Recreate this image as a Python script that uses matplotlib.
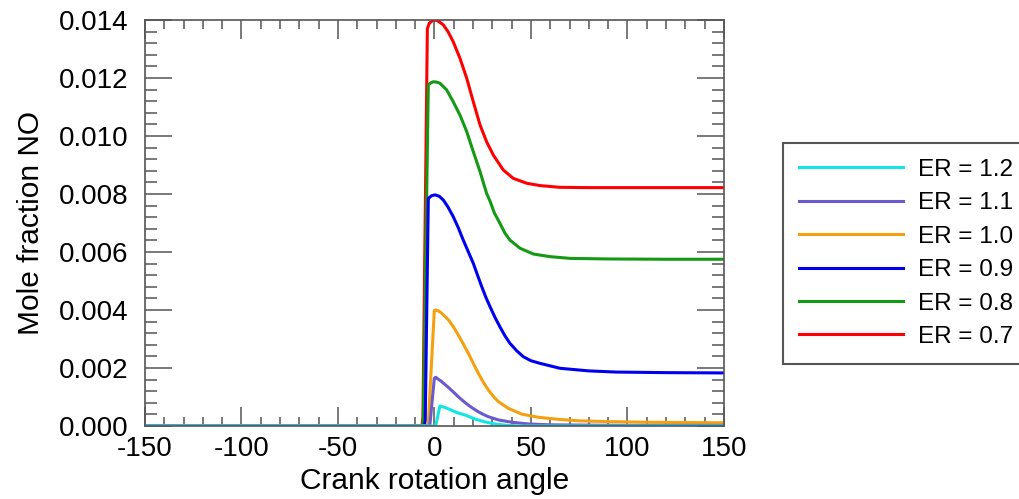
import numpy as np
import matplotlib
matplotlib.use("Agg")
import matplotlib.pyplot as plt
from matplotlib.ticker import MultipleLocator, FormatStrFormatter

plt.rcParams['font.family'] = ['Liberation Sans', 'DejaVu Sans']
plt.rcParams['axes.unicode_minus'] = False

# crank angle / mole fraction NO
angle_07 = [-150, -6.5, -6.0, -3.7, -2.7, -1, 0.3, 2, 4.6, 7, 9.7, 13.2, 16.7, 20.1, 23.6, 27.0, 30.5,
            35.6, 40.8, 47.8, 54.7, 65, 80, 100, 150]
no_07 = [0, 0, 0.0003, 0.0137, 0.01389, 0.01398, 0.0140, 0.01396, 0.01383, 0.0136, 0.01325, 0.01268, 0.01199,
         0.01118, 0.01038, 0.0098, 0.00934, 0.00883, 0.00854, 0.00837, 0.00829, 0.00823, 0.00822, 0.00822, 0.00822]

angle_08 = [-150, -6.2, -5.8, -3.2, -2, -0.6, 1, 2.8, 6.3, 9.7, 13.2, 16.7, 20.1, 23.6, 27.0, 28.8, 31,
            33.9, 36.5, 39.1, 44.3, 51.2, 59.8, 70.2, 90, 120, 150]
no_08 = [0, 0, 0.0002, 0.01176, 0.01183, 0.01187, 0.01186, 0.01182, 0.01159, 0.01118, 0.01072, 0.01015,
         0.00946, 0.00877, 0.00802, 0.00775, 0.00735, 0.00699, 0.00665, 0.00641, 0.00613, 0.00593, 0.00584,
         0.00578, 0.00576, 0.00575, 0.00575]

angle_09 = [-150, -5.2, -4.8, -3.2, -1.5, 0.3, 2.5, 4.6, 7, 9.7, 12.3, 14.9, 17.5, 20.1, 22.3, 24.5, 26.6,
            28.8, 31.3, 33.9, 36.5, 39.1, 42.5, 46.0, 50, 54.7, 65, 80, 94, 120, 150]
no_09 = [0, 0, 0.0002, 0.00785, 0.00794, 0.00797, 0.00792, 0.00779, 0.00755, 0.00722, 0.00684, 0.00641,
         0.00601, 0.00561, 0.0052, 0.0048, 0.00444, 0.00411, 0.00375, 0.00342, 0.00311, 0.00285, 0.0026,
         0.00239, 0.00225, 0.00216, 0.00199, 0.0019, 0.00186, 0.00184, 0.00183]

angle_10 = [-150, -3.4, -3.2, -0.1, 0.6, 2, 3.7, 7.2, 9.8, 12.3, 14.9, 17.5, 20.1, 22.7, 25.3, 27.9, 30.5,
            33.1, 38.2, 45.2, 53.8, 64.1, 74.5, 90, 110, 150]
no_10 = [0, 0, 0.0001, 0.00398, 0.004, 0.00397, 0.00389, 0.00366, 0.00342, 0.00314, 0.00283, 0.00251, 0.00216,
         0.00182, 0.00151, 0.00124, 0.00102, 0.00084, 0.00061, 0.00041, 0.0003, 0.00023, 0.00018, 0.00015,
         0.00013, 0.00011]

angle_11 = [-150, -2.5, -2.3, -0.1, 0.6, 3.7, 7.2, 9.8, 12.3, 14.9, 17.5, 20.1, 22.7, 25.3, 27.9, 33.1, 40,
            48.6, 60, 80, 100, 150]
no_11 = [0, 0, 0.0001, 0.00164, 0.00168, 0.00153, 0.00133, 0.00117, 0.00101, 0.00086, 0.00072, 0.0006,
         0.00049, 0.0004, 0.00032, 0.00021, 0.00013, 0.00007, 0.00004, 0.00003, 0.00002, 0.00002]

angle_12 = [-150, 0.6, 2.8, 5.4, 8, 10.6, 13.2, 15.8, 18.4, 21, 23.6, 26.2, 31.3, 38, 45, 150]
no_12 = [0, 0, 0.00069, 0.00064, 0.00057, 0.00049, 0.00043, 0.00038, 0.00031, 0.00024, 0.00019, 0.00014,
         0.00007, 0.00002, 0, 0]

labels = ['ER = 0.7', 'ER = 0.8', 'ER = 0.9', 'ER = 1.0', 'ER = 1.1', 'ER = 1.2']
colors = ['#ff0000', '#149914', '#0000f0', '#f5a00f', '#6a5acd', '#11e5e8']
angles = [angle_07, angle_08, angle_09, angle_10, angle_11, angle_12]
values = [no_07, no_08, no_09, no_10, no_11, no_12]

fig = plt.figure(figsize=(10.2, 4.99), dpi=100)
ax = fig.add_axes([145 / 1020, 1 - 426 / 499, (724 - 145) / 1020, (426 - 20) / 499])

lines = []
for a, v, c, lab in zip(angles, values, colors, labels):
    ln, = ax.plot(a, v, color=c, lw=2.2, label=lab, solid_joinstyle='round')
    lines.append(ln)

ax.set_xlim(-150, 150)
ax.set_ylim(0, 0.014)
ax.xaxis.set_major_locator(MultipleLocator(50))
ax.xaxis.set_minor_locator(MultipleLocator(10))
ax.yaxis.set_major_locator(MultipleLocator(0.002))
ax.yaxis.set_minor_locator(MultipleLocator(0.0004))
ax.yaxis.set_major_formatter(FormatStrFormatter('%.3f'))

ax.tick_params(axis='both', which='both', direction='in', top=True, right=True,
               colors='#555555', labelcolor='black', labelsize=20)
ax.tick_params(axis='x', which='major', length=13.5, width=1.1, pad=7)
ax.tick_params(axis='x', which='minor', length=6.2, width=1.1)
ax.tick_params(axis='y', which='major', length=19.5, width=1.1, pad=12)
ax.tick_params(axis='y', which='minor', length=8.6, width=1.1)
for s in ax.spines.values():
    s.set_color('#555555')
    s.set_linewidth(1.2)

ax.set_xlabel('Crank rotation angle', fontsize=21.5, labelpad=4)
ax.set_ylabel('Mole fraction NO', fontsize=21.5, labelpad=10)

leg = ax.legend(lines[::-1], labels[::-1], loc='upper left',
                bbox_to_anchor=(783 / 1020, 1 - 143 / 499), bbox_transform=fig.transFigure,
                borderaxespad=0, fontsize=17.5, handlelength=4.3, handletextpad=0.6,
                borderpad=0.65, labelspacing=0.47, fancybox=False, framealpha=1,
                edgecolor='#555555')
leg.get_frame().set_linewidth(1.5)

fig.savefig('out.png', dpi=100)
